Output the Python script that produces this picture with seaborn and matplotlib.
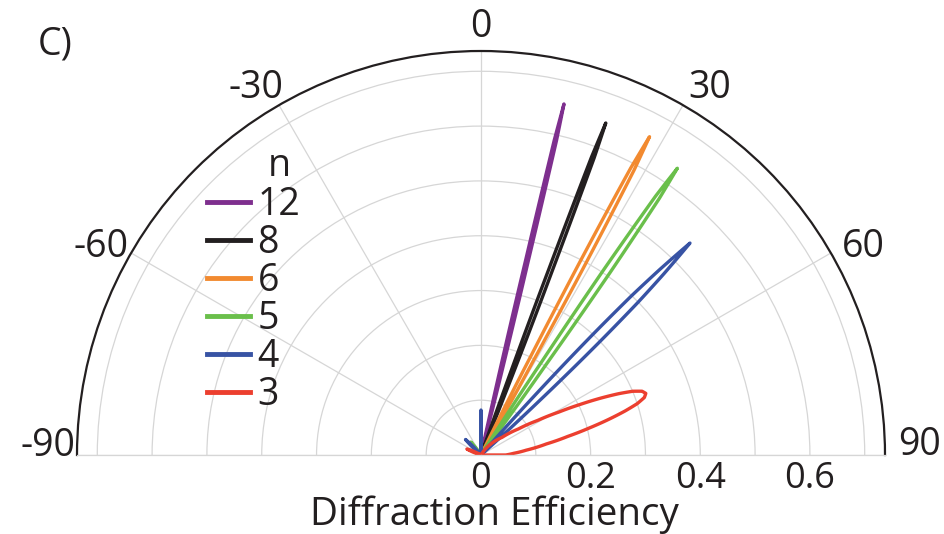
import numpy as np
import pandas as pd
import matplotlib
matplotlib.use("Agg")
import matplotlib.pyplot as plt
import seaborn as sns

plt.rcParams['font.family'] = ['Open Sans', 'DejaVu Sans']
plt.rcParams['text.color'] = '#231f20'

# grating orders (legend order) and their colours
orders = ["12", "8", "6", "5", "4", "3"]
colors = ["#7e2f8e", "#231f20", "#f28a30", "#6abf4b", "#3853a4", "#ec3f2f"]

# efficiency lobes: outline angle (deg) and diffraction efficiency
theta_12 = [-2.0, 0.0, 2.0, 12.3, 12.65, 12.9, 13.1, 13.3, 13.5, 13.7, 13.95, 14.3]
eff_12 = [0.0, 0.045, 0.0, 0.0, 0.2, 0.36, 0.59, 0.658, 0.59, 0.36, 0.2, 0.0]

theta_8 = [19.4, 19.75, 20.05, 20.35, 20.6, 20.85, 21.15, 21.45, 21.8]
eff_8 = [0.0, 0.2, 0.36, 0.58, 0.647, 0.58, 0.36, 0.2, 0.0]

theta_6 = [26.0, 26.75, 27.09, 27.55, 27.9, 28.25, 28.71, 29.05, 29.8]
eff_6 = [0.0, 0.2, 0.381, 0.59, 0.657, 0.59, 0.381, 0.2, 0.0]

theta_5 = [-44.0, -38.0, -32.0, 32.15, 33.05, 33.52, 34.0, 34.4, 34.8, 35.28, 35.75, 36.65]
eff_5 = [0.0, 0.03, 0.0, 0.0, 0.2, 0.407, 0.57, 0.634, 0.57, 0.407, 0.2, 0.0]

theta_4 = [-50.0, -45.0, -40.0, -1.2, -0.4, 0.0, 0.4, 1.2,
           41.2, 42.1, 42.85, 43.4, 43.94, 44.6, 45.26, 45.8, 46.35, 47.1, 48.0]
eff_4 = [0.0, 0.04, 0.0, 0.0, 0.06, 0.082, 0.06, 0.0,
         0.0, 0.15, 0.3, 0.4, 0.47, 0.543, 0.47, 0.4, 0.3, 0.15, 0.0]

theta_3 = [-74.0, -67.0, -60.0, 30.0, 41.0, 50.0, 55.1, 58.6, 61.1, 63.0, 64.6, 66.0,
           67.2, 68.4, 69.5, 70.6, 71.8, 73.0, 74.4, 76.0, 77.9, 80.4, 83.9, 87.0,
           90.0, 90.0]
eff_3 = [0.0, 0.028, 0.0, 0.0, 0.025, 0.05, 0.083, 0.121, 0.162, 0.2035, 0.242, 0.275,
         0.300, 0.316, 0.321, 0.316, 0.300, 0.275, 0.242, 0.2035, 0.162, 0.121, 0.083,
         0.06, 0.045, 0.0]

# axis ticks
theta_ticks = [-90, -60, -30, 0, 30, 60, 90]
r_grid = [0.1, 0.2, 0.3, 0.4, 0.5, 0.6, 0.7]
r_labels = ["0", "0.2", "0.4", "0.6"]
r_label_values = [0.0, 0.2, 0.4, 0.6]
r_max = 0.737

lobes = {"12": (theta_12, eff_12), "8": (theta_8, eff_8), "6": (theta_6, eff_6),
         "5": (theta_5, eff_5), "4": (theta_4, eff_4), "3": (theta_3, eff_3)}
frames = []
for key in orders:
    th, ef = lobes[key]
    frames.append(pd.DataFrame({"theta": np.deg2rad(th), "efficiency": ef, "n": key}))
df = pd.concat(frames, ignore_index=True)

# half-disc: centre at (481, 455) px, radius 404 px; the wedge sits inside a square box
W, H = 945, 534
cx, cy, R = 481, 455, 404
side = 2 * R
box_bottom = cy + side / 4
fig = plt.figure(figsize=(W / 100, H / 100), dpi=100)
ax = fig.add_axes([(cx - R) / W, (H - box_bottom) / H, side / W, side / H], projection="polar")
ax.set_theta_zero_location("N")
ax.set_theta_direction(-1)
ax.set_thetamin(-90)
ax.set_thetamax(90)
ax.set_ylim(0, r_max)

grid_gray = "#d6d6d6"
ax.set_xticks(np.deg2rad(theta_ticks))
ax.set_xticklabels([])
ax.set_yticks(r_grid)
ax.set_yticklabels([])
ax.grid(True, color=grid_gray, lw=0.9)
ax.tick_params(axis="x", length=4.5, width=1.2, color="#231f20", direction="out")
ax.tick_params(axis="y", length=0)
ax.spines["polar"].set_color("#231f20")
ax.spines["polar"].set_linewidth(1.6)
for s in ("start", "end"):
    ax.spines[s].set_color(grid_gray)
    ax.spines[s].set_linewidth(0.9)
ax.spines["inner"].set_visible(False)

sns.lineplot(data=df, x="theta", y="efficiency", hue="n", hue_order=orders,
             palette=dict(zip(orders, colors)), sort=False, estimator=None,
             linewidth=2.4, ax=ax, legend=True)
ax.set_xlabel("")
ax.set_ylabel("")
# follow the polar geometry between outline points
for ln in ax.lines:
    ln.get_path()._interpolation_steps = 12

old = ax.get_legend()
handles = old.legend_handles
labels = [t.get_text() for t in old.get_texts()]
old.remove()
leg = ax.legend(handles, labels, title="n ", loc="upper left",
                bbox_to_anchor=(207 / W, 0.724), bbox_transform=fig.transFigure,
                frameon=False, fontsize=27, title_fontsize=27, handlelength=1.15,
                handletextpad=0.2, borderpad=0, borderaxespad=0, labelspacing=0.0,
                alignment="right")
leg._legend_box.sep = 0.5
for ln in leg.get_lines():
    ln.set_linewidth(3.5)

# angle labels around the rim (offsets in px)
px = 0.72
theta_label_style = {
    -90: (-2, -1, "right"), -60: (-3, -4, "right"), -30: (4, 7, "right"),
    0: (0, 14, "center"), 30: (5, 7, "left"), 60: (11, -4, "left"), 90: (13, 0, "left"),
}
for a in theta_ticks:
    dx, dy, ha = theta_label_style[a]
    ax.annotate(str(a), xy=(np.deg2rad(a), r_max), xytext=(dx * px, dy * px),
                textcoords="offset points", ha=ha, va="baseline", fontsize=27,
                annotation_clip=False)

# radial labels below the baseline
for lbl, r in zip(r_labels, r_label_values):
    ax.annotate(lbl, xy=(np.pi / 2, r), xytext=(0, -33 * px), textcoords="offset points",
                ha="center", va="baseline", fontsize=26, annotation_clip=False)

fig.text(494 / W, 9 / H, "Diffraction Efficiency", ha="center", va="baseline", fontsize=27.8)
fig.text(38 / W, (H - 55) / H, "C)", ha="left", va="baseline", fontsize=27)

fig.savefig("out.png", dpi=100)
